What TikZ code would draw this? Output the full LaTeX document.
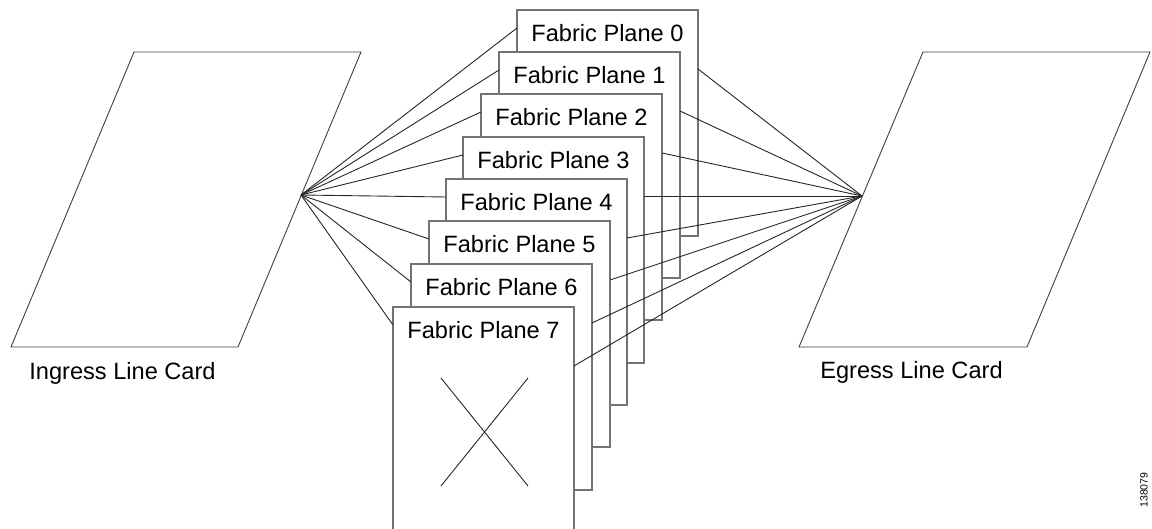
\documentclass[tikz,border=0pt]{standalone}
\usepackage{fontspec}
\setmainfont{Liberation Sans}
\usetikzlibrary{calc}
\begin{document}
\begin{tikzpicture}[x=1pt,y=-1pt,
  plane/.style={draw=black!55,line width=1.3pt,fill=white,minimum width=181pt,minimum height=226pt,inner sep=0pt,outer sep=0pt,anchor=north west},
  lbl/.style={font=\fontsize{23.6}{28}\selectfont,inner sep=0pt},
  link/.style={draw=black!85,line width=0.9pt},
  card/.style={draw=black!75,line width=0.9pt}]
\useasboundingbox (0,0) rectangle (1152,529);
\clip (0,0) rectangle (1152,529);
% line cards
\draw[card] (134,52) -- (361,52) -- (238,347) -- (11,347) -- cycle;
\draw[card] (923,52) -- (1150,52) -- (1027,347) -- (799,347) -- cycle;
\coordinate (inA) at (301,195);
\coordinate (egA) at (862,196);
\node[lbl,anchor=base] (ing) at (122.5,380) {Ingress Line Card};
\node[lbl,anchor=base] (egr) at (911.5,379) {Egress Line Card};
% fabric planes, back to front
\foreach \k/\px/\py in {0/517/10,1/499/52,2/481/94,3/463/137,4/446/179,5/429/221,6/411/264,7/393/307} {
  \node[plane] (P\k) at (\px,\py) {};
  \node[lbl,anchor=base] (T\k) at ($(P\k.north)+(0,32)$) {Fabric Plane \k};
}
% links
\foreach \k in {0,...,7} {
  \draw[link] (inA) -- ($(P\k.north west)+(0,18)$);
  \draw[link] ($(P\k.north east)+(0,59)$) -- (egA);
}
% cross in plane 7
\coordinate (xa) at ($(P7.north west)+(48,71)$);
\coordinate (xb) at ($(P7.north west)+(135,179)$);
\coordinate (xc) at ($(P7.north west)+(135,71)$);
\coordinate (xd) at ($(P7.north west)+(48,179)$);
\draw[link] (xa) -- (xb);
\draw[link] (xc) -- (xd);
% figure number
\node[font=\fontsize{10.5}{12}\selectfont,rotate=90,inner sep=0pt] (num) at (1144,490) {138079};
\end{tikzpicture}
\end{document}
